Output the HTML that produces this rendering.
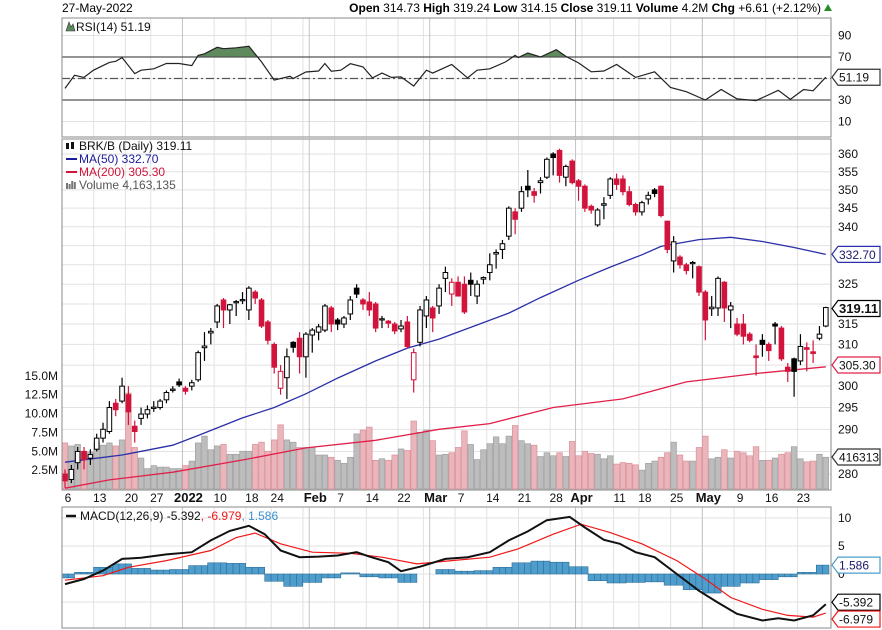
<!DOCTYPE html>
<html><head><meta charset="utf-8"><style>
html,body{margin:0;padding:0;background:#fff;}
svg{display:block;font-family:"Liberation Sans",Arial,sans-serif;}
</style></head><body>
<svg id="chart" width="882" height="630" viewBox="0 0 882 630" xmlns="http://www.w3.org/2000/svg">
<rect x="0" y="0" width="882" height="630" fill="#fff"/>
<g id="hdr" font-size="12">
<text x="62" y="12" fill="#000">27-May-2022</text>
<text x="821" y="12" text-anchor="end" fill="#000"><tspan font-weight="bold">Open</tspan> 314.73 <tspan font-weight="bold">High</tspan> 319.24 <tspan font-weight="bold">Low</tspan> 314.15 <tspan font-weight="bold">Close</tspan> 319.11 <tspan font-weight="bold">Volume</tspan> 4.2M <tspan font-weight="bold">Chg</tspan> +6.61 (+2.12%)</text>
<polygon points="824,11 832,11 828,4" fill="#2a8a2a"/>
</g>
<g id="grid"></g>
<g id="vol"></g>
<g id="lines"></g>
<g id="candles"></g>
<g id="rsi"></g>
<g id="macd"></g>
<g id="frames"></g>
<g id="labels" font-size="12"></g>
</svg>
<script>
const opens=[280,278.8,282.5,285,283.5,285.5,288,289.5,296,296.5,298,290.7,292.5,293.5,294.8,295,296.8,299,301,299.5,300,301.5,309.2,312.8,315.5,321,318.5,320.3,320.8,318.5,323,321,315.5,310,299.5,302,310.5,311.5,307,312.3,313,313.5,319,316,315,317.5,324,321,320.5,320,316,315.7,315,313.8,315.5,301.5,310.5,317,319,319.5,326.5,322.5,325.5,325,326,322,326.3,328,332.8,334,337.5,344,345,351,349.5,352,353.5,360,361,353.5,358,352.5,351,345.5,340.5,345.8,348.5,353,353,349.5,346,344,347.5,350,351,341.5,331,332,330,330.3,329.5,323,318.8,319,325.5,318.5,315,315,312.5,307.2,311,310,315,314,304.5,306.5,306,309.2,308.2,311.5,314.5];
const closes=[278.5,281,285,283.2,284.3,288,290,295,294.5,300,294,289.5,293.5,294.5,295.1,296.5,298.5,299.3,300.3,298.8,300.8,308,309.6,313.2,319.5,318.5,319.8,320.6,321.1,324,321.5,314.5,311,304.5,303.5,307,309.3,307,312.5,313.5,314.3,319.5,315,315,316.5,321,322.5,320,318.5,314,316.3,315.2,313.3,314.5,309.5,308,318.5,321,316.5,324,328,325.5,322,318,325,325,326.7,330,333.2,335.5,345,342,349.5,350,348.5,352.5,358.5,359,354,356.5,352,351,345,344.5,344.5,346.2,353,351.5,349.5,346,344,346.5,348.5,349,343,334,336,330,328.5,330.6,323,316,319.2,326.5,319,319.5,312.5,312,311,306.8,310,308.5,314.5,306.5,303.5,303.5,309.5,308.8,307.8,312.5,319.1];
const highs=[281,282,286,286,285.5,289,291.5,296.5,297,302,300,292,295,295.5,296.5,297,299,300,301.8,300,301.5,308.5,313,314,320,321.5,320,321,323,324.5,323.5,321.5,316,310.5,305,309,310.8,313,313,314,315,320,319.5,316.5,317,322,325,321.5,323,320.5,317,316,315.5,316,317,309,319.5,322,319.5,325,329.5,326.5,327,327,328,326,327,333,334,336.5,345.5,345,351,355.5,350.5,353.5,359,360.5,361.5,357,358.5,353,351.5,346,345,348,353.5,354.5,354,351,346.5,347,349.5,350.5,351.2,341.5,337.5,332.5,330.5,331,329.8,323.5,322,327,325.8,320.5,316.5,317.5,313,310,312.5,310.5,315.5,314.5,305.5,306.8,312.5,310.5,311,314.5,319.3];
const lows=[277,278,281,281,282,285,287,289,293,296,291,287,291,292.5,294,294.5,296,298.5,299.8,298,299,301,306,310,314,314,315,317,320,316,320,314,310,303,298,297,308,303,302,308,311,313,313,313.5,314,316,321.5,318.5,317,313,314,314,312.5,313,309,298.5,309.5,314,313,317.5,323,319.5,322,317.5,322,320,325,326,329,331.5,336.5,338,344,348,346.5,349,353,354,352,351,351.5,347,344,343.5,340,342,347.5,350,348.5,345.5,343,343,346,348,342.5,333,328,329,327.5,326.5,322,311,317,317,315.5,314,312,310,310.5,302.5,307,306,310,306,301,297.5,305,303.5,305.5,311,314.2];
const volumes=[6.1,5.7,5.9,5.0,4.9,6.1,5.8,6.1,5.7,6.5,12.7,5.5,4.1,2.7,3.1,2.9,2.9,2.7,2.7,3.1,3.7,6.1,7.0,5.2,5.7,5.9,4.6,4.6,5.0,5.0,5.9,6.2,5.0,6.5,8.5,6.5,6.2,5.5,5.5,5.5,4.5,4.5,4.2,3.8,3.4,4.2,7.3,7.8,8.2,3.8,4.0,3.8,4.5,5.3,5.1,9.0,7.5,7.8,6.4,4.5,4.6,4.8,5.5,7.7,5.9,3.9,5.2,6.0,6.9,6.0,7.0,8.4,6.4,6.0,5.8,4.3,4.8,4.4,4.8,4.3,6.3,4.4,5.0,4.7,4.6,4.0,4.4,3.3,3.5,3.4,3.2,2.5,3.4,3.7,4.2,4.8,6.2,4.5,3.7,3.7,5.5,7.0,4.0,4.2,5.2,4.1,5.0,4.8,4.4,5.6,3.8,3.8,4.1,4.6,4.8,5.6,4.0,3.6,3.7,4.6,4.2];
const ma50Idx=[0,9,17,21,28,33,38,43,49,54,59,70,75,81,86,91,94,100,105,110,115,120];
const ma50Val=[282.6,284.2,286.4,288.6,292.6,295.0,298.2,301.9,306.0,309.1,311.3,317.7,321.6,326.0,329.4,332.6,334.8,336.6,337.2,336.1,334.5,332.7];
const ma200Idx=[0,7,17,28,38,49,59,67,77,88,98,109,120];
const ma200Val=[276.9,278.7,280.4,283.1,285.8,287.5,290.0,291.3,295.0,297.0,301.0,303.0,304.6];
const rsiIdx=[0,1.5,3,4.5,7,8,9,11,12,14,16,18,20,21,22,24,25,27,29,31,33,35.5,36,38,40,41,42,43.5,45,47,48.5,50,51.5,53,55,57,58,61,63.5,65,67,69.5,71,71.5,73,75,77.5,79,81,83,85,87,90,93,95.5,98,101,103.5,106,109,112.5,114.4,116.5,118,120];
const rsiVal=[40.8,53,51,57.7,65,66,69.4,54.6,57.7,59,64,64,62,71.5,73,79,77.7,78.6,80,65.4,48.5,52,50,56,57,64,56.8,57.7,63.8,60.8,50.6,55,51,51.5,43,57.7,55,63,50.6,57.7,59,65.4,71.5,69.4,73.7,70,76.8,70.6,64.5,56.2,57,63,51,56.2,41.7,37.7,30,39.8,31,29.4,39,30.6,39.8,38.6,51.19];
const macdIdx=[0,3,6,9,12,16,20,23,26,29,31.5,34,37,40,43,46,48,51,53,56,60,63.5,67,70,73,76,79.6,82,85,87.5,90,93,96.5,100,103,106,110,112.5,115,118,120];
const macdVal=[-1.8,-0.9,0.6,2.7,2.9,3.5,3.9,6.0,7.7,8.6,7.1,4.2,3.0,3.1,3.3,3.9,3.1,2.1,0.5,1.3,2.7,3.0,3.9,6.0,7.6,9.6,10.2,8.3,6.1,5.4,3.9,3.0,0,-3.0,-5.1,-7.1,-8.3,-7.9,-8.3,-7.4,-5.392];
const sigIdx=[0,6,10,16,23,27,30,34,39,45,50,55.5,61,67,71.5,77,81.4,86,91,96.5,101,105,110,114,118,120];
const sigVal=[-1.1,-0.3,1.2,2.4,4.2,6.5,7.3,5.4,3.9,3.7,3.0,1.8,2.4,3.0,4.5,7.1,8.9,7.4,5.4,2.4,-0.9,-4.2,-6.3,-7.4,-7.7,-6.979];
const histStep=3;
const histVal=[-0.7,0.3,1.2,1.8,1.0,0.7,0.8,1.5,2.0,1.9,1.2,-1.3,-2.2,-1.5,-0.7,0.2,-0.5,-0.7,-1.5,0.0,0.8,0.5,0.6,1.2,2.0,2.3,2.1,1.3,-1.2,-1.6,-1.5,-1.4,-2.0,-2.8,-3.4,-2.2,-1.6,-1.0,-0.5,0.3,1.586];
const weekIdx=[0,5,10,14,19,24,29,33,38,43,48,53,57,62,67,72,77,82,87,91,96,101,106,111,116];
const monthIdx=[19,39,58,81,101];
const xLabelIdx=[0,5,10,14,19,24,29,33,39,43,48,53,58,62,67,72,77,81,87,91,96,101,106,111,116];
const xLabelTxt=["6","13","20","27","2022","10","18","24","Feb","7","14","22","Mar","7","14","21","28","Apr","11","18","25","May","9","16","23"];
const xLabelBold=[0,0,0,0,1,0,0,0,1,0,0,0,1,0,0,0,0,1,0,0,0,1,0,0,0];
const priceTicks=[280,285,290,295,300,305,310,315,320,325,330,335,340,345,350,355,360];
const volTicks=[2.5,5.0,7.5,10.0,12.5,15.0];
const rsiTicks=[10,30,50,70,90];
const macdTicks=[-5,0,5,10];

const NS="http://www.w3.org/2000/svg";
const L=62,R=831;
function xOf(i){return 65+i*6.34;}
function pY(p){return 474-Math.log(p/280)/0.2513*320;}
function vY(v){return 489-v*7.55;}
function rY(v){return 57+(70-v)*1.075;}
function mY(v){return 574-v*5.6;}
function mk(tag,attrs,parent){const e=document.createElementNS(NS,tag);for(const k in attrs)e.setAttribute(k,attrs[k]);if(parent)document.getElementById(parent).appendChild(e);return e;}
function pts(ix,vals,fy){return ix.map((i,k)=>xOf(i).toFixed(1)+","+fy(vals[k]).toFixed(1)).join(" ");}

// panels
const panels=[[18,137],[139,490],[507,628]];
// grid
for(const t of priceTicks){const g=mk("line",{x1:L,x2:R,y1:pY(t),y2:pY(t),stroke:"#e2e2e2","stroke-width":1},"grid");

}
for(const t of rsiTicks){const g=mk("line",{x1:L,x2:R,y1:rY(t),y2:rY(t),stroke:"#e2e2e2"},"grid");

}
for(const t of macdTicks){const g=mk("line",{x1:L,x2:R,y1:mY(t),y2:mY(t),stroke:"#e2e2e2"},"grid");

}
for(const i of weekIdx){for(const p of panels){const g=mk("line",{x1:xOf(i)-3,x2:xOf(i)-3,y1:p[0],y2:p[1],stroke:"#e2e2e2"},"grid");

}}
for(const i of monthIdx){for(const p of panels){const g=mk("line",{x1:xOf(i)-3,x2:xOf(i)-3,y1:p[0],y2:p[1],stroke:"#c4c4c4"},"grid");

}}

// volume
for(let i=0;i<volumes.length;i++){
 const up=i===0?false:closes[i]>=closes[i-1];
 const y=vY(volumes[i]);
 const b=mk("rect",{x:xOf(i)-2.8,y:y,width:5.6,height:489-y,fill:up?"#bdbdbd":"#eab5bb",stroke:up?"#a0a0a0":"#dc8f99","stroke-width":0.7},"vol");
 
 
}
// MAs
const m50=mk("polyline",{points:pts(ma50Idx,ma50Val,pY),fill:"none",stroke:"#2b2fa8","stroke-width":1.3},"lines");


const m200=mk("polyline",{points:pts(ma200Idx,ma200Val,pY),fill:"none",stroke:"#e0204a","stroke-width":1.3},"lines");



// candles
for(let i=0;i<closes.length;i++){
 const red=i===0?true:closes[i]<closes[i-1];
 const col=red?"#d2143c":"#000";
 const filled=closes[i]<opens[i];
 const w=mk("line",{x1:xOf(i),x2:xOf(i),y1:pY(highs[i]),y2:pY(lows[i]),stroke:col,"stroke-width":1.2},"candles");
 
 
 const top=pY(Math.max(opens[i],closes[i])),bot=pY(Math.min(opens[i],closes[i]));
 const b=mk("rect",{x:xOf(i)-2.3,y:top,width:4.6,height:Math.max(1.2,bot-top),fill:filled?col:"#fff",stroke:col,"stroke-width":1},"candles");
 
 
}

// RSI
const cp=mk("clipPath",{id:"rsiclip"},"rsi");
mk("rect",{x:L,y:18,width:R-L,height:rY(70)-18},null);
cp.appendChild(mk("rect",{x:L,y:18,width:R-L,height:rY(70)-18}));
const rp=pts(rsiIdx,rsiVal,rY);
const rf=mk("polygon",{points:xOf(rsiIdx[0])+","+rY(70)+" "+rp+" "+xOf(rsiIdx[rsiIdx.length-1])+","+rY(70),fill:"#5e8a5e","clip-path":"url(#rsiclip)"},"rsi");


for(const [v,d] of [[70,""],[30,""],[50,"8,3,2,3"]]){const l=mk("line",{x1:L,x2:R,y1:rY(v),y2:rY(v),stroke:"#555","stroke-width":1.3,"stroke-dasharray":d},"rsi");

}
const rl=mk("polyline",{points:rp,fill:"none",stroke:"#222","stroke-width":1.2},"rsi");



// MACD
for(let k=0;k<histVal.length;k++){
 for(let j=-1;j<=1;j++){
  const i=k*histStep+j; if(i<0||i>120)continue;
  const v=histVal[k];const y0=mY(0),y1=mY(v);
  const b=mk("rect",{x:xOf(i)-3.17,y:Math.min(y0,y1),width:6.34,height:Math.abs(y1-y0),fill:"#4f9dcc",stroke:"#2f6e9a","stroke-width":0.6},"macd");
  
  
 }
}
const sl=mk("polyline",{points:pts(sigIdx,sigVal,mY),fill:"none",stroke:"#f01818","stroke-width":1.2},"macd");


const ml=mk("polyline",{points:pts(macdIdx,macdVal,mY),fill:"none",stroke:"#111","stroke-width":2},"macd");



// frames
for(const p of panels){const f=mk("rect",{x:L,y:p[0],width:R-L,height:p[1]-p[0],fill:"none",stroke:"#8a8a8a","stroke-width":1},"frames");

}

// labels
function txt(x,y,s,attrs){const t=mk("text",Object.assign({x:x,y:y,fill:"#111"},attrs||{}),"labels");t.textContent=s;return t;}
for(const t of priceTicks){if([285,305,320,330,335].includes(t))continue;const e=txt(838,pY(t)+4,String(t));

}
for(const t of volTicks){const e=txt(58,vY(t)+4,t.toFixed(1)+"M",{"text-anchor":"end"});

}
for(const t of rsiTicks){if(t===50)continue;const e=txt(838,rY(t)+4,String(t));

}
for(const t of [10,5,0]){const e=txt(838,mY(t)+4,String(t));

}
for(let k=0;k<xLabelIdx.length;k++){const e=txt(xOf(xLabelIdx[k])+3,502,xLabelTxt[k],{"text-anchor":"middle","font-weight":xLabelBold[k]?"bold":"normal","font-size":xLabelBold[k]?13:12});

}
function tag(y,s,col,bold,name){
 const g=mk("polygon",{points:`832,${y} 838,${y-8} 880,${y-8} 880,${y+8} 838,${y+8}`,fill:"#fff",stroke:col,"stroke-width":1.2},"labels");
 
 
 const t=txt(839,y+4.5,s,{fill:col==="#2b2fa8"||col==="#4f9dcc"?"#1a1a6a":"#111","font-weight":bold?"bold":"normal","font-size":bold?13:12});
 
 
}
tag(rY(51.19),"51.19","#333",false,"rsi");
tag(pY(332.7),"332.70","#2b2fa8",false,"ma50");
tag(pY(319.11)+1,"319.11","#000",true,"close");
tag(365,"305.30","#e0204a",false,"ma200");
tag(457,"416313","#333",false,"volume");
tag(mY(1.586),"1.586","#4f9dcc",false,"histogram");
tag(mY(-5.392)-2,"-5.392","#000",false,"macd");
tag(mY(-6.979)+6,"-6.979","#f01818",false,"signal");

// legends
const lg=[["BRK/B (Daily) 319.11","#111",151],["MA(50) 332.70","#1c1c9a",164],["MA(200) 305.30","#d0143a",177],["Volume 4,163,135","#555",190]];
lg.forEach((d,k)=>{const e=txt(79,d[2]-1,d[0],{fill:d[1]});

});
mk("line",{x1:66,x2:77,y1:159,y2:159,stroke:"#1c1c9a","stroke-width":2},"labels");
mk("line",{x1:66,x2:77,y1:172,y2:172,stroke:"#d0143a","stroke-width":2},"labels");
for(let k=0;k<4;k++){mk("rect",{x:66+k*2.6,y:183+(k%2?2:0)-k,width:2,height:6-(k%2?2:0)+k,fill:"#777"},"labels");}
mk("rect",{x:66,y:143,width:3,height:6,fill:"#111"},"labels");mk("rect",{x:71,y:142,width:3,height:7,fill:"#111"},"labels");
const rl2=txt(76,31,"RSI(14) 51.19");


mk("polygon",{points:"66,31 69,22 71,27 73,24 75,31",fill:"#5e8a5e",stroke:"#333","stroke-width":0.6},"labels");
const mlg=mk("text",{x:80,y:520,"font-size":12,fill:"#111"},"labels");
mlg.innerHTML='MACD(12,26,9) -5.392<tspan fill="#f01818">, -6.979</tspan><tspan fill="#3a8fd0">, 1.586</tspan>';


mk("line",{x1:66,x2:76,y1:516,y2:516,stroke:"#111","stroke-width":2.5},"labels");
</script>
</body></html>
